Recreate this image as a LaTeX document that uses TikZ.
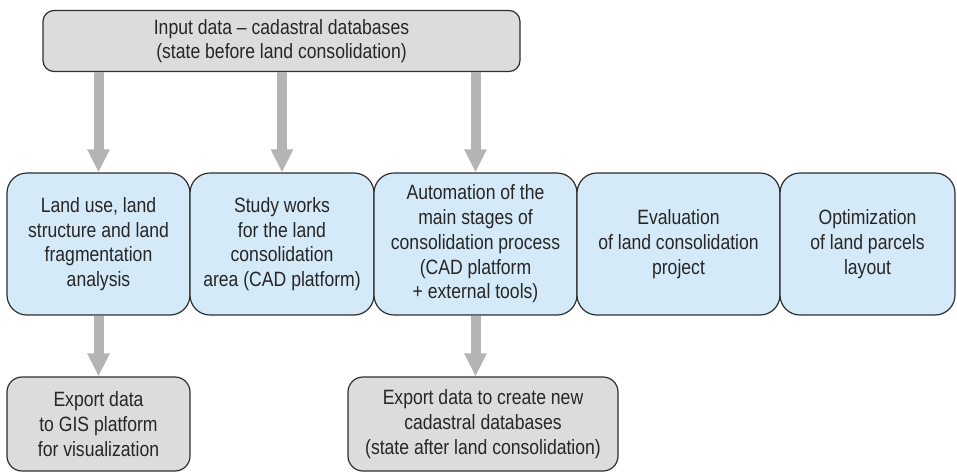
\documentclass[tikz,border=0pt]{standalone}
\usepackage{fontspec}
\setmainfont[FakeStretch=0.85]{Liberation Sans}
\usetikzlibrary{arrows.meta}
\definecolor{boxgray}{HTML}{DCDCDC}
\definecolor{boxblue}{HTML}{D5EAF8}
\definecolor{arrgray}{HTML}{B4B4B4}
\definecolor{edge}{HTML}{2E2E2E}
\begin{document}
\begin{tikzpicture}[x=1pt,y=-1pt,
  base/.style={draw=edge, line width=1.2pt, align=center, inner sep=0pt,
    font=\fontsize{20.7}{24.7}\selectfont, text=black!85},
  graybox/.style={base, fill=boxgray},
  bluebox/.style={base, fill=boxblue, rounded corners=20pt, minimum height=142pt},
  arr/.style={draw=arrgray, line width=10pt, -{Triangle[width=21pt,length=23pt]}, shorten >=0pt}]
\useasboundingbox (0,0) rectangle (957,475);

\node[graybox, rounded corners=11pt, minimum width=477pt, minimum height=61pt] (top) at (281.5,41)
  {Input data -- cadastral databases\\(state before land consolidation)};

\node[bluebox, minimum width=183pt] (b1) at (98.5,244)
  {Land use, land\\structure and land\\fragmentation\\analysis};
\node[bluebox, minimum width=184pt] (b2) at (282,244)
  {Study works\\for the land\\consolidation\\area (CAD platform)};
\node[bluebox, minimum width=203pt] (b3) at (475.5,244)
  {Automation of the\\main stages of\\consolidation process\\(CAD platform\\+ external tools)};
\node[bluebox, minimum width=203pt] (b4) at (678.5,244)
  {Evaluation\\of land consolidation\\project};
\node[bluebox, minimum width=175pt] (b5) at (867.5,244)
  {Optimization\\of land parcels\\layout};

\node[graybox, rounded corners=15pt, minimum width=183pt, minimum height=94pt] (e1) at (98.5,424)
  {Export data\\to GIS platform\\for visualization};
\node[graybox, rounded corners=15pt, minimum width=270pt, minimum height=94pt] (e2) at (483,424)
  {Export data to create new\\cadastral databases\\(state after land consolidation)};

\coordinate (s1) at (top.south -| b1.north);
\coordinate (s2) at (top.south -| b2.north);
\coordinate (s3) at (top.south -| b3.north);
\draw[arr] (s1) -- (b1.north);
\draw[arr] (s2) -- (b2.north);
\draw[arr] (s3) -- (b3.north);
\draw[arr] (b1.south) -- (e1.north);
\draw[arr] (b3.south) -- (b3.south |- e2.north);
\end{tikzpicture}
\end{document}
